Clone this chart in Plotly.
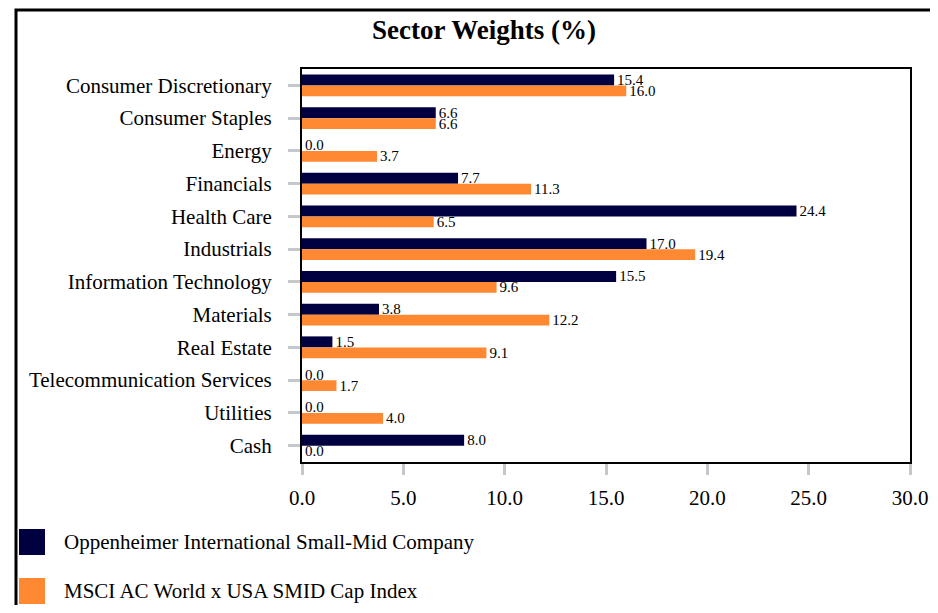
import plotly.graph_objects as go

# Data
sectors = [
    "Consumer Discretionary", "Consumer Staples", "Energy", "Financials",
    "Health Care", "Industrials", "Information Technology", "Materials",
    "Real Estate", "Telecommunication Services", "Utilities", "Cash",
]
fund_name = "Oppenheimer International Small-Mid Company"
fund_weights = [15.4, 6.6, 0.0, 7.7, 24.4, 17.0, 15.5, 3.8, 1.5, 0.0, 0.0, 8.0]
index_name = "MSCI AC World x USA SMID Cap Index"
index_weights = [16.0, 6.6, 3.7, 11.3, 6.5, 19.4, 9.6, 12.2, 9.1, 1.7, 4.0, 0.0]
x_ticks = [0, 5, 10, 15, 20, 25, 30]

NAVY = "#000040"
ORANGE = "#FF8833"
FONT = "Liberation Serif"

# page body has an 8px margin all round; keep the figure inside the window
OFF = 8
W, H = 938 - 2 * OFF, 613 - 2 * OFF
L, T = 302 - OFF, 69 - OFF
R = W - (910 - OFF)
B = H - (462 - OFF)


def px2x(px):
    return (px - OFF - L) / (W - L - R)


def py2y(py):
    return (H - B - (py - OFF)) / (H - T - B)


fig = go.Figure()
for name, vals, color in [(fund_name, fund_weights, NAVY), (index_name, index_weights, ORANGE)]:
    fig.add_trace(go.Bar(
        y=sectors, x=vals, name=name, orientation="h",
        marker=dict(color=color, line=dict(width=0)),
        text=[f"{v:.1f}" for v in vals], textposition="outside",
        textfont=dict(family=FONT, size=15, color="black"),
        constraintext="none",
        cliponaxis=False, showlegend=False,
    ))

fig.update_layout(
    width=W, height=H,
    margin=dict(l=L, r=R, t=T, b=B, autoexpand=False),
    paper_bgcolor="white", plot_bgcolor="white",
    font=dict(family=FONT, color="black"),
    barmode="group", bargap=0.33, bargroupgap=0,
    title=dict(text="<b>Sector Weights (%)</b>", x=px2x(484), xref="paper",
               y=1 - (30 - OFF) / H, yref="container", xanchor="center", yanchor="middle",
               font=dict(family=FONT, size=27, color="black")),
)

fig.update_xaxes(
    range=[0, 30], tickvals=x_ticks, ticktext=[f"{v:.1f}" for v in x_ticks],
    showgrid=False, zeroline=False, automargin=False,
    showline=True, linecolor="black", linewidth=2, mirror=True,
    ticks="outside", ticklen=11, tickwidth=3, tickcolor="#c4c8cc",
    ticklabelstandoff=5,
    tickfont=dict(family=FONT, size=21, color="black"),
)
fig.update_yaxes(
    autorange="reversed", showgrid=False, zeroline=False, automargin=False,
    showline=True, linecolor="black", linewidth=2, mirror=True,
    ticks="outside", ticklen=12, tickwidth=3, tickcolor="#c4c8cc",
    ticklabelstandoff=12,
    tickfont=dict(family=FONT, size=21, color="black"),
)

# outer frame
fig.add_shape(type="rect", xref="paper", yref="paper",
              x0=px2x(16), x1=px2x(960), y0=py2y(640), y1=py2y(10),
              line=dict(color="black", width=3), fillcolor="rgba(0,0,0,0)")

# legend drawn as squares + text
for name, color, cy in [(fund_name, NAVY, 542), (index_name, ORANGE, 591)]:
    fig.add_shape(type="rect", xref="paper", yref="paper",
                  x0=px2x(19), x1=px2x(45), y0=py2y(cy + 13), y1=py2y(cy - 13),
                  line=dict(width=0), fillcolor=color)
    fig.add_annotation(text=name, xref="paper", yref="paper",
                       x=px2x(62), y=py2y(cy), xanchor="left", yanchor="middle",
                       showarrow=False, font=dict(family=FONT, size=21, color="black"))

fig.write_html("out.html")
